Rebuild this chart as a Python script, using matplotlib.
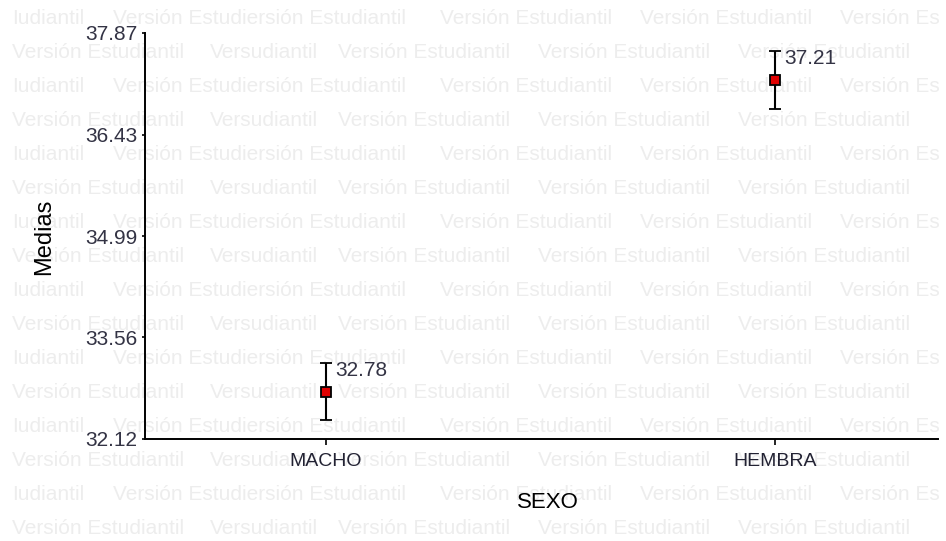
import matplotlib
matplotlib.use('Agg')
import matplotlib.pyplot as plt

plt.rcParams['font.family'] = ['Liberation Sans', 'DejaVu Sans']

# data
categorias = ['MACHO', 'HEMBRA']
medias = [32.78, 37.21]
inferior = [32.39, 36.80]
superior = [33.19, 37.61]
ticks_y = [32.12, 33.56, 34.99, 36.43, 37.87]

# watermark rows (pixel x of each piece)
marca_impar = [(12, 'Iudiantil'), (113, 'Versión Estudiersión Estudiantil'),
               (440, 'Versión Estudiantil'), (640, 'Versión Estudiantil'),
               (840, 'Versión Es')]
marca_par = [(12, 'Versión Estudiantil'), (210, 'Versudiantil'),
             (338, 'Versión Estudiantil'), (538, 'Versión Estudiantil'),
             (738, 'Versión Estudiantil')]

W, H = 946, 541
fig = plt.figure(figsize=(W / 100, H / 100), dpi=100)
fig.patch.set_facecolor('white')

# watermark behind the axes
for fila in range(16):
    yc = 18 + 34 * fila
    piezas = marca_impar if fila % 2 == 0 else marca_par
    for xp, txt in piezas:
        fig.text(xp / W, 1 - yc / H, txt, fontsize=15, color='#ededed',
                 ha='left', va='center', zorder=-1)

ax = fig.add_axes([145 / W, (H - 439) / H, (938 - 145) / W, (439 - 33) / H])
ax.patch.set_alpha(0)

x = list(range(len(categorias)))
err_lo = [m - lo for m, lo in zip(medias, inferior)]
err_hi = [hi - m for m, hi in zip(medias, superior)]
ax.errorbar(x, medias, yerr=[err_lo, err_hi], fmt='s', color='black',
            ecolor='black', elinewidth=1.5, capsize=4, capthick=1.5,
            markerfacecolor='#e00000', markeredgecolor='black',
            markersize=7, markeredgewidth=1.3, zorder=3)

for xi, m, hi in zip(x, medias, superior):
    ax.annotate(f'{m:.2f}', (xi, hi), xytext=(7, -5), textcoords='offset points',
                ha='left', va='center', fontsize=15, color='#333344')

ax.set_xlim(-0.403, 1.363)
ax.set_ylim(ticks_y[0], ticks_y[-1])
ax.set_xticks(x)
ax.set_xticklabels(categorias, fontsize=14, color='#222233')
ax.set_yticks(ticks_y)
ax.set_yticklabels([f'{t:.2f}' for t in ticks_y], fontsize=15, color='#333344')

for s in ['top', 'right']:
    ax.spines[s].set_visible(False)
for s in ['left', 'bottom']:
    ax.spines[s].set_linewidth(1.4)
ax.tick_params(axis='y', length=2.5, width=1.2, pad=3)
ax.tick_params(axis='x', length=4, width=1.2, pad=6)

ax.set_ylabel('Medias', fontsize=17, color='black')
ax.yaxis.set_label_coords(-0.113, 0.4975)
ax.set_xlabel('SEXO', fontsize=16, color='black')
ax.xaxis.set_label_coords(0.508, -0.13)

fig.savefig('out.png', dpi=100)
